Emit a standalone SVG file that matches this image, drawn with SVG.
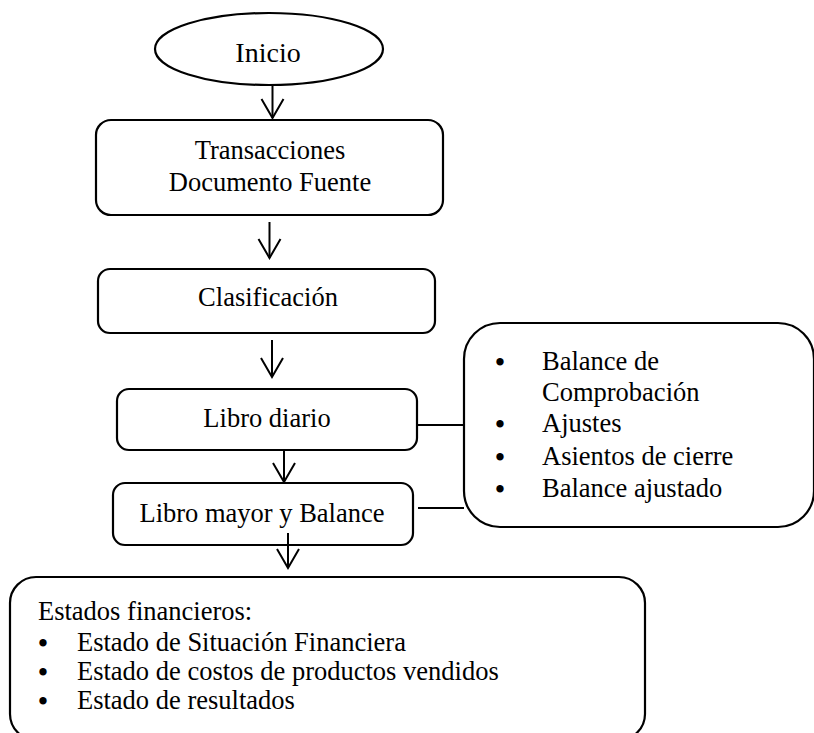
<svg xmlns="http://www.w3.org/2000/svg" width="814" height="733" viewBox="0 0 814 733" font-family="'Liberation Serif', 'Times New Roman', 'DejaVu Serif', serif">
<style>
.shape{fill:#fff;stroke:#000;stroke-width:2.2}
.t{font-family:'Liberation Serif','Times New Roman',serif;font-size:26.5px;fill:#000}
.c{text-anchor:middle}
.b{font-weight:bold;font-size:27px}
.conn{stroke:#000;stroke-width:2;fill:none}
</style>
<defs>
<marker id="arr" markerUnits="userSpaceOnUse" orient="auto" refX="0" refY="0" markerWidth="30" markerHeight="30" overflow="visible">
<path d="M-19,-11 L0,0 L-19,11" fill="none" stroke="#000" stroke-width="2"/>
</marker>
</defs>
<rect width="814" height="733" fill="#fff"/>
<g id="connectors">
<line class="conn" x1="272.5" y1="85" x2="272.5" y2="118" marker-end="url(#arr)"/>
<line class="conn" x1="269.5" y1="222" x2="269.5" y2="258" marker-end="url(#arr)"/>
<line class="conn" x1="272" y1="340" x2="272" y2="377" marker-end="url(#arr)"/>
<line class="conn" x1="284" y1="450" x2="284" y2="482" marker-end="url(#arr)"/>
<line class="conn" x1="417" y1="425" x2="464" y2="425"/>
<line class="conn" x1="418" y1="508" x2="464" y2="508"/>
</g>
<g id="inicio">
<ellipse class="shape" cx="269" cy="49" rx="114" ry="36"/>
<text class="t c" x="268" y="62" style="font-size:28px">Inicio</text>
</g>
<g id="transacciones">
<rect class="shape" x="96" y="120" width="347" height="95" rx="15"/>
<text class="t c" x="270" y="159">Transacciones</text>
<text class="t c" x="270" y="191">Documento Fuente</text>
</g>
<g id="clasificacion">
<rect class="shape" x="98" y="269" width="337" height="64" rx="12"/>
<text class="t c" x="268" y="306">Clasificación</text>
</g>
<g id="libro-diario">
<rect class="shape" x="117" y="389" width="300" height="61" rx="12"/>
<text class="t c" x="267" y="427">Libro diario</text>
</g>
<g id="libro-mayor">
<rect class="shape" x="113" y="483" width="300" height="62" rx="12"/>
<text class="t c" x="262" y="522">Libro mayor y Balance</text>
</g>
<g id="arrow5">
<line class="conn" x1="288" y1="533" x2="288" y2="568" marker-end="url(#arr)"/>
</g>
<g id="ajustes">
<rect class="shape" x="464" y="323" width="350" height="204" rx="36"/>
<text class="t c b" x="500" y="371">•</text>
<text class="t" x="542" y="370">Balance de</text>
<text class="t" x="542" y="401">Comprobación</text>
<text class="t c b" x="500" y="433">•</text>
<text class="t" x="542" y="432">Ajustes</text>
<text class="t c b" x="500" y="466">•</text>
<text class="t" x="542" y="465">Asientos de cierre</text>
<text class="t c b" x="500" y="498">•</text>
<text class="t" x="542" y="497">Balance ajustado</text>
</g>
<g id="estados">
<rect class="shape" x="10" y="577" width="635" height="163" rx="26"/>
<text class="t" x="38" y="620">Estados financieros:</text>
<text class="t c b" x="43" y="652">•</text>
<text class="t" x="77" y="651">Estado de Situación Financiera</text>
<text class="t c b" x="43" y="681">•</text>
<text class="t" x="77" y="680">Estado de costos de productos vendidos</text>
<text class="t c b" x="43" y="710">•</text>
<text class="t" x="77" y="709">Estado de resultados</text>
</g>
</svg>
